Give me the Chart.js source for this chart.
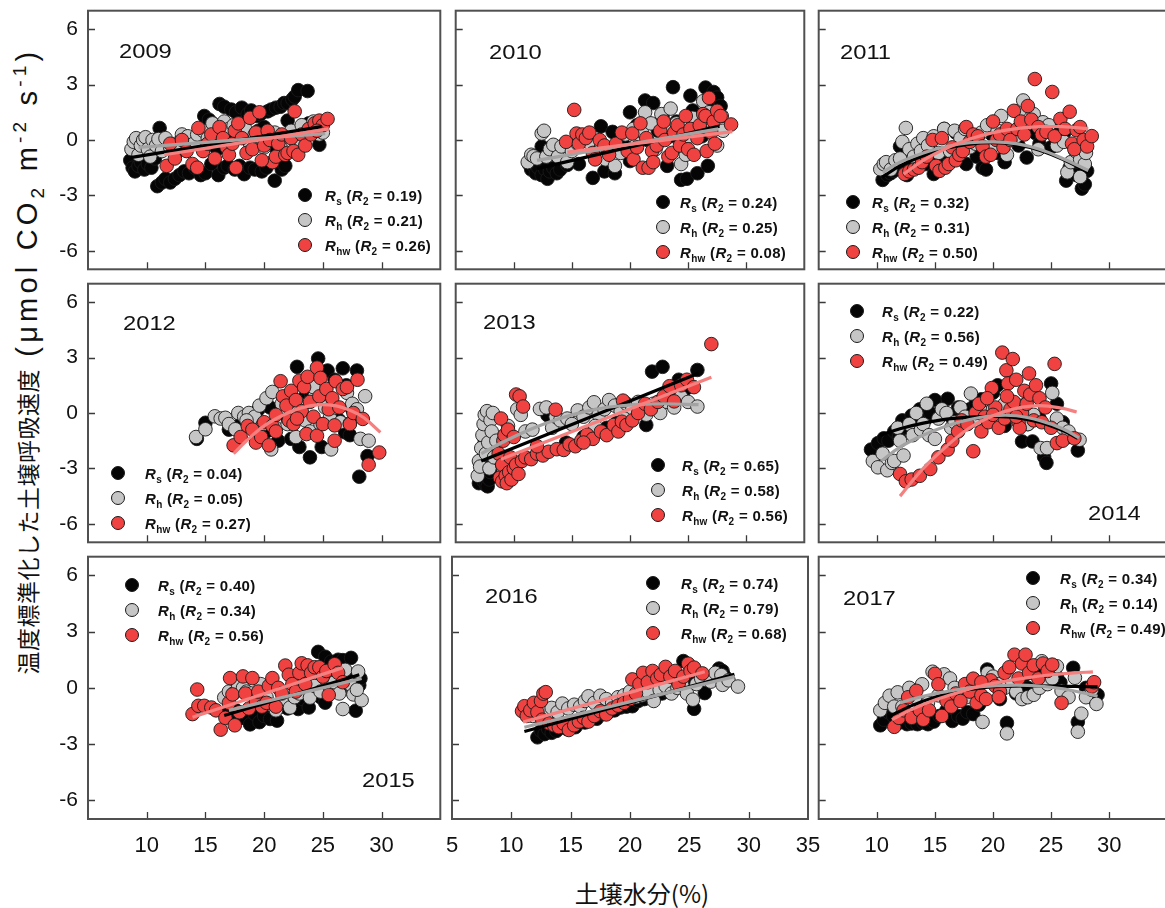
<!DOCTYPE html>
<html><head><meta charset="utf-8">
<script src="https://cdn.jsdelivr.net/npm/chart.js@4.4.1/dist/chart.umd.min.js"></script>
<style>
html,body{margin:0;padding:0;background:#fff;}
body{width:1165px;height:908px;overflow:hidden;position:relative;font-family:"Liberation Sans",Arial,sans-serif;color:#111;}
canvas{position:absolute;}
.yr{position:absolute;font-size:21px;line-height:21px;transform:scaleX(1.13);transform-origin:0 0;white-space:nowrap;}
.lg{position:absolute;display:flex;align-items:center;height:20px;white-space:nowrap;font-weight:bold;font-size:15px;letter-spacing:0.3px;}
.lg .mk{display:inline-block;width:14px;height:14px;border-radius:50%;border:1px solid #1a1a1a;box-sizing:border-box;flex:none;}
.lg sub{font-size:10px;vertical-align:-4px;line-height:0;}
#ytitle{position:absolute;left:27px;top:361px;transform:translate(-50%,-50%) rotate(-90deg);white-space:nowrap;}
#ytitle .cj{font-family:"Noto Sans CJK JP",sans-serif;font-size:23px;letter-spacing:0.5px;}
#ytitle .lt{font-family:"Liberation Sans",Arial,sans-serif;font-size:29px;letter-spacing:4.2px;}
#ytitle sub,#ytitle sup{font-size:19px;line-height:0;}
#xtitle{position:absolute;left:642px;top:892px;transform:translate(-50%,-50%);white-space:nowrap;font-family:"Noto Sans CJK JP",sans-serif;font-size:24px;}
</style></head><body>
<div id="ytitle"><span class="cj">温度標準化した土壌呼吸速度</span><span class="lt"> (μmol CO<sub>2</sub> m<sup>-2</sup> s<sup>-1</sup>)</span></div>
<div id="xtitle">土壌水分(%)</div>
<script>
// ---------------- data ----------------
const years = [2009, 2010, 2011, 2012, 2013, 2014, 2015, 2016, 2017];
const r2Rs  = [0.19, 0.24, 0.32, 0.04, 0.65, 0.22, 0.40, 0.74, 0.34];
const r2Rh  = [0.21, 0.25, 0.31, 0.05, 0.58, 0.56, 0.34, 0.79, 0.14];
const r2Rhw = [0.26, 0.08, 0.50, 0.27, 0.56, 0.49, 0.56, 0.68, 0.49];
const yTickValues = [-6, -3, 0, 3, 6];
const xTickValues = [10, 15, 20, 25, 30];
const xTickValuesMid = [5, 10, 15, 20, 25, 30, 35];

const rs2009 = [[8.6,-1.1],[8.8,-1.5],[9.0,-1.7],[9.3,-1.4],[9.5,-1.2],[9.8,-1.6],[10.1,-1.3],[10.4,-1.5],[10.7,-1.0],[11.1,0.65],[10.9,-2.5],[11.3,-2.3],[11.6,-2.1],[12.0,-2.3],[12.4,-2.1],[12.8,-1.9],[13.2,-1.7],[13.6,-1.8],[14.1,-1.5],[14.6,-1.9],[15.0,-1.8],[15.5,-1.3],[16.1,-1.9],[16.6,-1.5],[16.9,-1.4],[17.5,-1.6],[17.9,-1.4],[18.3,-1.85],[18.8,-1.5],[19.2,-1.6],[19.8,-1.7],[20.2,-1.5],[20.9,-2.2],[21.5,-1.6],[21.8,-1.4],[14.9,1.3],[15.3,1.1],[15.6,0.9],[16.2,1.95],[16.6,1.8],[17.2,1.65],[17.6,1.5],[18.1,1.75],[18.6,1.4],[18.9,1.6],[19.4,1.3],[19.7,1.4],[20.3,1.55],[20.6,1.65],[21.0,1.75],[21.4,1.8],[21.7,2.0],[22.0,2.0],[22.4,2.2],[22.6,2.35],[22.9,2.7],[23.7,2.65],[17.2,0.35],[19.5,0.5],[20.9,-0.35],[15.0,-0.35],[22.0,1.05],[23.8,0.9],[24.7,-0.26],[23.2,0.2],[12.5,-0.7],[13.5,0.1],[16.0,-0.5],[18.0,0.2],[20.0,0.7]];
const rh2009 = [[8.7,-0.5],[8.9,-0.1],[9.1,0.1],[9.3,-0.8],[9.5,-0.3],[9.7,0.0],[9.9,0.15],[10.1,-0.5],[10.3,-0.9],[10.5,0.0],[10.8,-0.3],[11.0,0.05],[11.3,-0.6],[11.6,0.1],[12.0,-0.4],[12.5,-0.2],[13.0,0.3],[13.5,0.2],[14.0,-0.2],[14.3,0.3],[14.8,0.5],[15.2,0.1],[15.6,0.9],[16.0,0.3],[16.6,1.0],[17.0,0.6],[17.4,0.8],[17.8,0.2],[18.4,0.6],[18.8,-0.2],[19.2,0.3],[19.5,0.2],[20.0,-0.4],[20.5,0.0],[20.9,0.4],[21.4,-0.4],[21.8,0.2],[22.3,0.5],[22.8,-0.3],[23.2,0.8],[23.6,0.4],[24.0,0.6],[24.4,0.9],[24.7,0.3],[25.0,0.4],[24.2,1.0]];
const rhw2009 = [[11.7,-1.4],[12.0,-0.2],[12.4,-1.0],[13.0,0.0],[13.4,-0.6],[13.9,-1.3],[14.3,-1.5],[14.4,0.65],[14.8,-0.6],[15.2,-0.2],[15.5,0.3],[15.8,-1.0],[16.2,0.7],[16.5,0.1],[16.8,-0.4],[17.0,-0.8],[17.3,-0.2],[17.5,0.5],[17.8,0.9],[18.1,0.1],[18.5,-0.7],[18.8,1.2],[19.0,-0.5],[19.3,0.4],[19.6,1.5],[20.0,-0.3],[20.3,0.5],[20.5,0.0],[20.7,-1.2],[21.0,-0.9],[21.2,-0.2],[21.5,0.3],[21.8,-0.8],[22.0,-0.7],[22.3,0.1],[22.5,-0.6],[22.6,1.55],[22.9,-0.8],[23.2,0.3],[23.5,-0.3],[23.8,0.6],[24.0,0.3],[24.3,0.9],[24.7,1.05],[25.0,0.8],[25.4,1.14],[24.5,0.5],[19.8,-1.1],[17.6,-1.5]];
const fitRs2009 = [[8.6,-0.95],[24.9,0.72]];
const fitRh2009 = [[9.3,-0.4],[25.2,0.35]];
const fitRhw2009 = [[11.5,-0.8],[25.5,0.6]];

const rs2010 = [[11.3,-1.3],[11.5,-1.6],[11.7,-1.4],[11.9,-1.8],[12.1,-1.5],[12.4,-0.35],[12.4,-1.9],[12.7,-1.6],[12.9,-2.1],[13.1,-1.7],[13.4,-1.5],[13.7,-1.8],[14.0,-1.6],[14.6,-1.35],[15.6,-1.3],[16.8,-2.05],[17.5,0.74],[17.8,-1.7],[18.5,0.44],[18.7,-1.8],[19.5,-0.3],[20.0,1.5],[20.0,-1.14],[20.6,0.8],[21.3,2.14],[21.5,0.0],[22.0,2.0],[22.4,0.5],[22.8,1.3],[23.2,-1.4],[23.7,2.86],[24.0,1.0],[24.4,-2.16],[24.9,-2.1],[25.2,2.4],[25.4,1.6],[25.8,-1.8],[26.0,0.6],[26.5,2.84],[26.7,-1.4],[27.0,1.8],[27.2,2.6],[27.5,2.3],[27.8,1.84],[26.2,0.2],[23.5,0.2]];
const rh2010 = [[11.2,-1.2],[11.5,-0.8],[11.7,-0.88],[12.0,-1.0],[12.4,0.35],[12.6,0.5],[12.8,-0.9],[13.1,-0.5],[13.4,-0.26],[13.8,-0.9],[14.1,-0.35],[14.6,-1.2],[15.0,-0.6],[15.5,-0.2],[16.0,0.1],[16.6,-0.2],[17.0,-0.7],[17.5,-0.4],[17.9,-1.05],[18.3,-0.5],[18.7,-1.4],[19.2,-0.7],[19.6,0.3],[20.3,0.6],[20.6,-0.2],[21.0,0.5],[21.3,1.5],[21.8,0.9],[22.2,-0.5],[22.7,1.4],[23.2,0.6],[23.5,1.7],[24.0,0.9],[24.4,-1.3],[24.8,-0.8],[25.0,0.2],[25.4,1.2],[25.7,0.6],[26.3,2.1],[26.8,1.5],[27.1,0.9],[27.5,-0.3],[27.9,1.3],[28.0,0.5]];
const rhw2010 = [[14.5,-0.1],[15.2,1.63],[15.4,0.35],[15.6,-0.2],[15.9,0.3],[16.2,0.1],[16.5,0.4],[16.8,-0.7],[17.0,-1.05],[17.4,0.0],[17.8,-0.3],[18.2,-0.8],[18.8,-0.2],[19.3,0.4],[19.8,-0.6],[20.2,0.35],[20.3,-1.05],[20.6,-0.4],[20.9,0.9],[21.1,-1.5],[21.4,0.1],[21.6,-1.5],[21.9,-0.6],[22.0,-1.2],[22.3,-0.3],[22.6,0.5],[22.9,1.0],[23.0,0.0],[23.3,-0.9],[23.6,-0.7],[23.8,0.4],[24.1,0.8],[24.3,-0.3],[24.6,0.3],[24.8,1.3],[25.0,-0.5],[25.2,0.6],[25.5,-0.8],[25.8,0.1],[26.0,0.8],[26.3,1.4],[26.5,1.3],[26.6,-0.6],[26.8,2.28],[27.0,0.4],[27.2,1.0],[27.5,1.58],[27.8,1.3],[27.3,-0.2],[28.7,0.84]];
const fitRs2010 = [[12.0,-1.55],[27.7,0.75]];
const fitRh2010 = [[12.0,-1.1],[27.6,0.6]];
const fitRhw2010 = [[14.6,-0.65],[28.8,0.45]];

const rs2011 = [[10.5,-2.16],[10.9,-1.9],[11.2,-1.8],[11.45,-1.67],[11.8,-1.5],[12.0,-0.35],[12.3,-1.4],[12.6,-1.9],[13.0,-1.2],[13.4,-1.5],[13.8,-1.0],[14.2,-1.3],[14.5,-0.6],[14.9,-1.84],[15.3,-0.9],[15.8,0.6],[16.2,-1.1],[16.8,0.4],[17.2,-0.5],[17.7,-1.3],[18.2,-0.2],[18.6,-0.9],[19.1,-1.5],[19.4,-1.6],[19.9,0.3],[20.4,-0.7],[21.0,-1.2],[21.6,0.2],[22.2,-0.3],[22.9,-0.95],[23.3,0.6],[23.7,0.35],[24.0,-0.2],[24.4,0.6],[25.0,-0.4],[25.6,0.5],[26.1,0.35],[26.3,-2.2],[26.6,-1.5],[27.2,-1.9],[27.65,-2.63],[27.9,-2.4],[28.1,-1.67],[27.7,-0.6]];
const rh2011 = [[10.3,-1.58],[10.6,-1.3],[10.8,-1.2],[11.2,-1.6],[11.6,-1.1],[12.0,-1.0],[12.2,-0.1],[12.5,0.65],[12.8,-0.5],[13.2,-0.9],[13.5,-0.2],[13.8,-0.6],[14.0,0.1],[14.4,-0.3],[14.9,0.2],[15.3,-0.7],[15.8,0.6],[16.3,-0.6],[16.7,0.5],[17.2,0.1],[17.6,0.6],[18.0,-0.4],[18.5,-0.2],[19.0,0.4],[19.5,0.8],[20.0,-0.5],[20.4,0.5],[20.7,1.3],[21.2,-0.8],[21.6,0.4],[22.0,0.2],[22.3,1.6],[22.6,2.14],[23.0,0.9],[23.5,1.4],[23.9,-0.5],[24.3,0.96],[24.8,0.8],[25.5,-0.3],[26.1,-0.1],[26.4,-1.75],[26.7,-1.2],[27.1,-0.6],[27.5,-1.05],[27.5,-2.0],[27.9,-1.3],[28.0,-0.7]];
const rhw2011 = [[12.4,-1.84],[12.8,-1.7],[13.2,-1.6],[13.6,-1.5],[13.9,-1.2],[14.3,-0.9],[14.8,0.0],[15.1,-1.4],[15.4,-1.67],[15.6,0.1],[15.9,-1.5],[16.2,-1.3],[16.5,-0.4],[16.8,-1.1],[17.1,-0.8],[17.4,-0.6],[17.7,0.7],[18.0,-0.1],[18.3,0.3],[18.7,0.2],[19.1,-0.35],[19.4,-0.9],[19.8,-0.8],[20.0,1.0],[20.3,0.0],[20.6,0.3],[20.9,-0.4],[21.2,0.6],[21.5,0.0],[21.8,1.58],[22.1,0.6],[22.4,1.0],[22.7,0.3],[23.0,1.84],[23.3,1.1],[23.6,3.3],[23.9,0.7],[24.2,0.3],[24.6,0.44],[25.1,2.6],[25.3,0.2],[25.8,1.14],[26.2,0.6],[26.6,1.53],[26.8,-0.2],[27.0,-0.5],[27.2,0.53],[27.5,0.7],[27.8,0.0],[28.1,-0.35],[28.5,0.21]];
const fitRs2011 = [[10.5,-2.0],[12,-1.4],[14,-0.85],[16,-0.45],[18,-0.22],[20,-0.15],[22,-0.25],[24,-0.55],[26,-1.05],[28.2,-1.75]];
const fitRh2011 = [[10.5,-1.75],[12,-1.2],[14,-0.7],[16,-0.35],[18,-0.15],[20,-0.1],[22,-0.2],[24,-0.5],[26,-1.0],[28.2,-1.65]];
const fitRhw2011 = [[12.3,-1.85],[14,-1.1],[16,-0.45],[18,0.05],[20,0.4],[22,0.62],[24,0.72],[26,0.72],[28.2,0.62]];

const rs2012 = [[14.27,-1.4],[15.0,-0.53],[17.0,-0.9],[18.0,-0.6],[19.5,0.18],[20.2,-1.0],[20.5,0.3],[21.2,-1.5],[21.8,0.6],[22.0,-0.3],[22.3,-1.4],[22.8,2.5],[23.0,-1.84],[23.5,0.9],[23.9,-2.4],[24.0,1.0],[24.6,2.95],[24.9,-1.84],[25.4,2.3],[25.8,0.4],[26.0,1.8],[26.4,-0.4],[26.7,2.42],[26.9,-1.05],[27.0,1.5],[27.5,0.2],[27.9,2.3],[28.1,-3.45],[28.8,-2.33],[27.3,-1.2]];
const rh2012 = [[14.2,-1.3],[15.0,-0.88],[15.8,-0.18],[16.3,-0.3],[16.7,-0.26],[17.0,-0.6],[17.55,-0.88],[17.8,0.0],[18.3,-0.2],[18.7,0.0],[19.2,-0.2],[19.6,0.4],[19.9,-0.6],[20.2,0.8],[20.6,-1.97],[20.7,1.14],[21.0,-0.8],[21.5,0.5],[22.0,-0.6],[22.4,0.2],[23.0,0.5],[23.5,-0.4],[23.9,-1.0],[24.3,0.9],[24.8,-0.6],[25.2,0.3],[25.6,-0.26],[25.7,-1.97],[26.0,0.3],[26.5,-0.5],[27.05,1.09],[27.3,-0.56],[27.5,0.5],[27.9,0.2],[28.2,-1.4],[28.6,0.91],[28.9,-1.5],[18.5,-0.4],[22.7,-1.3],[24.2,1.4]];
const rhw2012 = [[17.4,-1.75],[18.0,-1.3],[18.6,-0.7],[19.0,-0.9],[19.3,-1.6],[19.75,-1.3],[20.0,-0.5],[20.4,-1.75],[20.7,-0.7],[21.0,-0.1],[21.4,1.72],[21.6,0.9],[21.9,0.4],[22.1,-0.4],[22.3,1.2],[22.5,-0.6],[22.7,0.7],[23.0,1.75],[23.2,0.1],[23.4,1.4],[23.6,-1.14],[23.7,1.96],[23.9,0.6],[24.2,-0.2],[24.5,2.46],[24.5,-1.23],[24.7,0.9],[24.8,1.9],[25.0,-0.6],[25.3,1.3],[25.5,0.2],[25.8,0.8],[26.0,-0.67],[26.1,1.72],[26.0,-1.5],[26.4,0.3],[26.7,1.3],[27.05,1.4],[27.3,-0.6],[27.6,0.0],[27.95,1.8],[28.4,-0.32],[28.9,-2.8],[29.8,-2.14],[21.0,-1.0],[22.8,-0.3]];
const fitRs2012 = [];
const fitRh2012 = [];
const fitRhw2012 = [[17.4,-2.2],[18.5,-1.5],[20.0,-0.7],[21.5,-0.15],[23.0,0.25],[24.5,0.44],[26.0,0.4],[27.5,0.1],[28.5,-0.26],[29.9,-1.05]];

const rs2013 = [[7.0,-3.8],[7.2,-3.5],[7.4,-3.7],[7.6,-3.9],[7.75,-3.97],[7.9,-3.6],[7.3,-3.0],[7.46,-2.5],[7.6,-2.0],[7.5,-1.5],[7.7,-1.0],[7.6,-0.8],[8.0,-3.2],[8.2,-2.7],[12.9,-0.12],[14.5,-1.6],[16.0,-1.3],[18.0,-0.8],[19.0,-0.4],[20.5,0.2],[21.4,-0.65],[21.9,2.24],[22.8,2.5],[23.5,1.2],[24.2,1.8],[24.8,1.3],[25.8,2.33],[22.5,0.6]];
const rh2013 = [[6.9,-3.4],[7.0,-2.6],[7.1,-2.9],[7.2,-1.9],[7.3,-1.2],[7.4,-0.6],[7.5,-0.1],[7.6,-2.2],[7.7,0.1],[7.8,-1.6],[7.9,-3.0],[8.0,-0.4],[8.1,-1.0],[8.2,0.0],[8.3,-2.4],[8.5,-1.5],[9.5,-0.7],[10.3,0.2],[10.6,-0.1],[11.0,-1.0],[11.6,-0.9],[12.25,0.22],[12.8,0.3],[13.3,-0.8],[13.6,-0.2],[14.0,-0.4],[14.6,-0.3],[15.0,-0.6],[15.5,0.14],[16.0,-0.2],[16.5,0.3],[16.9,0.58],[17.3,-0.1],[17.8,0.2],[18.2,0.7],[18.7,0.4],[19.2,0.1],[19.7,0.5],[20.2,0.2],[20.7,0.6],[21.4,-0.09],[22.0,0.5],[22.6,0.0],[23.2,0.6],[23.8,0.3],[24.4,0.88],[25.0,0.6],[25.8,0.35],[17.0,-0.7],[19.5,-0.3]];
const rhw2013 = [[8.7,-2.2],[8.8,-3.5],[8.9,-0.3],[9.0,-3.7],[9.0,-2.8],[9.1,-1.5],[9.2,-1.2],[9.3,-3.4],[9.4,-3.8],[9.5,-0.9],[9.6,-3.2],[9.7,-2.4],[9.8,-3.6],[10.0,-3.0],[10.0,-1.3],[10.2,-2.8],[10.2,1.0],[10.5,0.9],[10.8,0.35],[10.4,-3.3],[10.7,-2.6],[11.0,-2.4],[11.5,-2.5],[12.0,-2.2],[12.5,-2.3],[13.0,-2.1],[13.6,0.18],[13.7,-1.96],[14.3,-2.0],[14.8,-1.7],[15.3,-1.8],[15.8,-1.5],[16.3,-1.17],[16.8,-1.4],[17.5,-1.0],[18.0,-1.2],[18.6,-0.65],[19.0,-1.0],[19.3,-0.47],[19.4,0.67],[19.7,-0.65],[20.2,-0.4],[20.7,0.0],[21.3,0.5],[21.8,0.2],[22.4,0.6],[22.9,0.9],[23.4,1.45],[23.8,0.63],[24.4,1.5],[24.9,1.8],[25.5,1.4],[27.0,3.73],[16.0,-1.6],[12.0,-1.8]];
const fitRs2013 = [[7.2,-2.6],[25.9,2.15]];
const fitRh2013 = [[7.2,-2.2],[9,-1.6],[11,-1.0],[13,-0.5],[15,-0.1],[17,0.2],[19,0.38],[21,0.47],[23,0.5],[25.9,0.45]];
const fitRhw2013 = [[8.9,-2.5],[27.0,1.93]];

const rs2014 = [[9.5,-1.98],[10.1,-1.63],[10.6,-1.37],[11.0,-1.5],[11.5,-1.0],[11.9,-1.3],[12.2,-0.4],[12.6,-0.8],[13.0,-0.14],[13.4,-0.6],[13.7,0.2],[14.1,-0.4],[14.6,0.0],[15.0,0.7],[15.4,-0.2],[16.1,0.77],[16.5,-0.3],[17.0,0.3],[17.5,-0.5],[18.0,0.2],[18.5,0.5],[19.0,0.74],[19.5,-0.2],[20.0,1.1],[20.4,1.5],[21.0,-0.7],[21.5,0.2],[22.0,0.0],[22.5,-1.54],[23.0,-0.6],[23.4,-1.54],[24.0,-0.3],[24.4,-2.38],[24.6,-2.7],[25.0,1.6],[25.5,0.5],[26.0,-0.5],[26.5,-1.3],[27.3,-2.03]];
const rh2014 = [[9.66,-2.6],[10.1,-2.94],[10.5,-2.2],[10.9,-3.1],[11.3,-2.7],[11.5,-2.6],[11.8,-0.8],[12.0,-1.5],[12.3,-2.3],[12.8,-0.6],[13.1,-1.2],[13.4,0.0],[13.8,-0.9],[14.0,-0.6],[14.3,0.5],[14.5,-1.2],[15.0,-1.4],[15.3,-0.3],[15.6,0.2],[16.0,0.0],[16.4,-0.8],[16.7,-0.5],[17.2,0.3],[17.6,-0.2],[18.1,1.05],[18.5,-0.4],[19.05,0.39],[19.5,0.0],[20.0,0.2],[20.5,-0.4],[21.0,0.5],[21.5,-0.1],[22.0,-0.3],[22.5,0.4],[23.0,-0.6],[23.5,-0.1],[24.1,-1.9],[24.65,-1.9],[25.1,1.09],[25.5,-0.3],[26.0,-0.8],[26.5,-1.0],[27.45,-1.45]];
const rhw2014 = [[12.0,-3.3],[12.5,-3.7],[13.0,-3.6],[13.7,-3.4],[14.6,-3.03],[15.3,-2.4],[16.1,-1.98],[16.5,-1.5],[17.0,-1.0],[17.3,-0.4],[17.8,-0.6],[18.3,-2.07],[18.5,0.0],[18.8,0.5],[19.0,-1.0],[19.3,-0.2],[19.6,-0.5],[19.9,1.35],[20.2,0.3],[20.5,-0.8],[20.8,3.27],[21.0,-0.3],[21.15,2.31],[21.3,1.6],[21.5,0.2],[21.7,2.92],[21.8,0.6],[22.0,1.8],[22.2,-0.5],[22.3,-0.8],[22.5,0.0],[22.7,1.2],[22.9,0.5],[23.1,2.14],[23.2,1.0],[23.5,-0.4],[23.7,1.5],[24.0,0.8],[24.2,-0.5],[24.5,0.3],[25.0,-0.8],[25.3,2.66],[25.5,-1.63],[26.0,-1.5],[27.0,-1.37],[20.0,-0.1],[21.2,0.9],[22.0,-0.2],[19.5,0.8]];
const fitRs2014 = [[10.3,-1.2],[12,-0.85],[14,-0.55],[16,-0.33],[18,-0.22],[20,-0.18],[22,-0.25],[24,-0.5],[26,-0.95],[27.3,-1.37]];
const fitRh2014 = [[10.4,-2.6],[12,-1.85],[14,-1.2],[16,-0.7],[18,-0.35],[20,-0.15],[22,-0.15],[24,-0.4],[26,-0.85],[27.4,-1.35]];
const fitRhw2014 = [[12,-4.5],[14,-3.0],[16,-1.8],[18,-0.8],[20,-0.15],[22,0.25],[24,0.4],[26,0.25],[27.2,0.05]];

const rs2015 = [[16.7,-1.3],[17.2,-1.5],[17.6,-1.2],[18.2,-1.6],[18.8,-1.95],[19.2,-1.4],[19.6,-1.83],[20.0,-1.5],[20.5,-1.66],[21.1,-1.75],[21.5,-1.0],[22.0,-1.1],[22.5,-0.8],[22.9,-1.13],[23.3,-0.6],[23.8,-1.05],[24.0,-0.3],[24.3,0.1],[24.6,1.92],[24.8,-0.5],[25.2,1.66],[25.2,-0.79],[25.7,1.4],[26.0,0.3],[26.3,1.5],[26.5,0.0],[26.7,1.48],[27.0,0.6],[27.4,1.6],[27.8,-1.22],[28.1,0.14],[28.2,0.5],[27.6,-0.3]];
const rh2015 = [[16.6,-0.52],[17.0,-0.2],[17.4,-0.3],[17.8,0.1],[18.2,0.0],[18.5,-0.2],[18.9,-0.3],[19.3,-0.8],[19.7,0.2],[20.2,-0.5],[20.6,-0.9],[21.0,-1.2],[21.5,-0.7],[22.2,-1.05],[22.6,-0.5],[23.0,-0.3],[23.5,0.4],[23.9,-0.52],[24.3,0.1],[24.8,-0.2],[25.2,0.5],[25.6,0.0],[26.0,0.3],[26.4,-0.3],[26.7,-1.13],[26.9,0.96],[27.3,0.2],[27.6,-0.35],[28.0,0.87],[28.3,-0.66],[27.9,-0.1]];
const rhw2015 = [[13.9,-1.4],[14.3,-0.09],[14.4,-0.96],[14.9,-0.96],[15.5,-1.05],[15.9,-1.2],[16.3,-2.23],[16.7,-1.6],[17.0,-0.8],[17.1,0.52],[17.3,-0.35],[17.5,-2.0],[17.9,-1.3],[18.2,0.61],[18.4,-0.3],[18.7,-1.1],[19.0,0.52],[19.3,-0.7],[19.5,-0.2],[19.8,-1.0],[20.2,-0.8],[20.4,0.1],[20.7,0.52],[21.0,-1.0],[21.2,0.0],[21.5,-0.3],[21.8,1.19],[22.1,0.7],[22.4,0.2],[22.7,-0.2],[23.0,0.8],[23.2,1.31],[23.5,0.2],[23.7,1.2],[24.0,0.8],[24.3,1.1],[24.7,1.1],[25.0,0.6],[25.3,0.9],[25.5,-0.38],[26.0,1.26],[26.3,0.8],[26.7,0.3]];
const fitRs2015 = [[16.6,-1.48],[28.1,0.7]];
const fitRh2015 = [[17.0,-1.2],[28.3,0.5]];
const fitRhw2015 = [[13.9,-1.57],[26.7,1.08]];

const rs2016 = [[12.2,-2.64],[12.5,-2.3],[12.8,-2.47],[13.1,-2.2],[13.4,-2.4],[13.8,-2.3],[14.2,-2.1],[14.7,-2.2],[15.1,-1.9],[15.4,-2.1],[15.8,-1.8],[16.2,-1.85],[16.7,-1.6],[17.2,-1.65],[17.7,-1.4],[18.2,-1.3],[18.7,-1.2],[19.2,-1.05],[19.7,-1.0],[20.2,-0.98],[20.7,-0.7],[21.2,-0.6],[21.7,-0.5],[22.2,-0.4],[22.7,-0.3],[23.2,-0.2],[23.7,-0.1],[24.1,0.1],[24.5,1.43],[24.8,0.2],[25.4,-1.12],[25.6,0.3],[26.3,-0.28],[27.5,1.03],[27.8,0.9],[28.0,0.6]];
const rh2016 = [[11.3,-1.3],[11.8,-1.5],[12.5,-1.4],[13.0,-1.2],[13.4,-1.07],[13.9,-1.3],[14.3,-0.84],[14.8,-1.1],[15.3,-0.9],[15.8,-1.0],[16.2,-0.7],[16.5,-0.45],[17.0,-0.8],[17.5,-0.42],[18.0,-0.6],[18.5,-0.8],[19.0,-0.5],[19.5,-0.4],[20.0,-0.2],[20.5,-0.5],[21.0,-0.4],[21.5,-0.2],[22.0,-0.7],[22.5,-0.1],[23.0,0.1],[23.5,-0.3],[24.0,0.0],[24.4,0.16],[24.8,-0.3],[25.3,-0.63],[25.6,0.2],[26.0,0.5],[26.8,0.33],[27.2,0.8],[27.7,0.68],[27.8,0.16],[28.3,0.4],[29.1,0.07]];
const rhw2016 = [[10.9,-1.24],[11.1,-0.98],[11.3,-1.5],[11.6,-1.2],[11.9,-0.8],[12.2,-1.3],[12.5,-0.7],[12.7,-0.31],[12.9,-0.23],[12.6,-1.7],[13.2,-1.9],[13.6,-2.0],[14.0,-2.1],[14.4,-1.9],[14.85,-2.25],[15.3,-2.0],[15.7,-1.8],[16.1,-1.6],[16.5,-1.8],[17.0,-1.5],[17.5,-1.25],[18.0,-1.42],[18.5,-1.1],[19.0,-0.95],[19.5,-0.8],[20.0,-0.6],[20.2,0.45],[20.5,-0.3],[20.8,0.2],[21.1,0.8],[21.5,0.3],[21.9,0.9],[22.3,0.5],[22.6,0.7],[23.0,1.12],[23.4,0.6],[23.8,0.9],[24.1,0.2],[24.5,0.6],[24.9,1.29],[25.1,0.9],[25.4,1.08],[26.1,0.77]];
const fitRs2016 = [[11.1,-2.33],[28.8,0.72]];
const fitRh2016 = [[11.1,-2.1],[28.8,0.6]];
const fitRhw2016 = [[11.0,-1.82],[26.3,0.86]];

const rs2017 = [[10.3,-2.0],[10.6,-1.7],[11.0,-1.3],[11.4,-1.5],[11.8,-1.9],[12.2,-1.8],[12.6,-1.94],[13.0,-1.9],[13.5,-1.94],[14.0,-1.85],[14.4,-1.94],[14.9,-1.8],[15.4,-1.5],[16.0,-1.2],[16.5,-1.77],[17.0,-1.5],[17.4,-1.64],[17.8,-1.3],[18.3,-1.4],[18.8,-0.9],[19.5,0.98],[20.0,0.5],[20.6,-0.6],[21.2,-1.87],[22.0,-0.3],[22.5,0.4],[23.0,0.0],[24.0,0.8],[24.5,0.5],[25.5,0.6],[25.8,0.28],[26.9,1.07],[27.3,-1.82],[28.0,0.0],[28.5,-0.5],[29.0,-0.37]];
const rh2017 = [[10.3,-1.2],[10.7,-0.8],[11.1,-0.42],[11.5,-1.0],[11.8,-0.24],[12.2,-1.0],[12.8,0.0],[13.3,-0.5],[13.9,0.19],[14.4,-0.8],[14.8,0.86],[15.3,-0.4],[15.8,0.72],[16.3,0.5],[16.7,0.0],[17.2,-0.6],[17.7,-0.5],[18.2,0.3],[18.6,-0.2],[19.1,-1.82],[19.55,0.8],[20.0,0.6],[20.5,0.2],[21.0,0.0],[21.2,-2.43],[21.6,0.4],[22.0,-0.2],[22.5,-0.6],[22.98,-0.5],[23.5,-0.37],[24.0,0.0],[24.2,1.42],[24.7,0.2],[25.1,0.5],[25.5,1.15],[25.9,-0.16],[26.5,-0.5],[27.05,0.54],[27.3,-2.34],[27.6,-1.38],[28.0,-0.5],[28.5,-0.1],[28.9,-0.86]];
const rhw2017 = [[11.5,-2.08],[11.9,-1.6],[12.3,-1.2],[12.7,-0.5],[13.0,-1.6],[13.4,-0.16],[13.7,-1.2],[14.0,-1.7],[14.5,-1.2],[15.0,0.75],[15.3,0.19],[15.6,-1.5],[16.0,-0.7],[16.4,-1.0],[16.8,-0.3],[17.2,-0.7],[17.6,0.2],[18.0,-0.2],[18.3,0.49],[18.6,-0.8],[19.0,-0.4],[19.4,-0.6],[19.8,0.4],[20.2,0.1],[20.6,-0.2],[21.0,0.8],[21.4,1.1],[21.85,1.77],[22.2,0.5],[22.5,1.3],[22.8,1.77],[23.1,0.8],[23.5,1.2],[23.9,0.5],[24.3,1.3],[24.7,0.9],[25.1,1.24],[25.9,-0.8],[28.5,0.07],[28.7,0.3],[20.5,-0.5],[19.0,0.3]];
const fitRs2017 = [[11,-1.55],[13,-0.95],[15,-0.5],[17,-0.2],[19,0.0],[21,0.08],[23,0.1],[25,0.1],[27,0.08],[29,0.05]];
const fitRh2017 = [[12,-0.8],[14,-0.45],[16,-0.2],[18,0.0],[20,0.1],[22,0.15],[24,0.1],[26,-0.05],[28,-0.3],[29,-0.45]];
const fitRhw2017 = [[11.3,-1.7],[13,-1.15],[15,-0.65],[17,-0.25],[19,0.1],[21,0.35],[23,0.55],[25,0.7],[27,0.8],[28.6,0.85]];

const rsAll  = [rs2009, rs2010, rs2011, rs2012, rs2013, rs2014, rs2015, rs2016, rs2017];
const rhAll  = [rh2009, rh2010, rh2011, rh2012, rh2013, rh2014, rh2015, rh2016, rh2017];
const rhwAll = [rhw2009, rhw2010, rhw2011, rhw2012, rhw2013, rhw2014, rhw2015, rhw2016, rhw2017];
const fitRsAll  = [fitRs2009, fitRs2010, fitRs2011, fitRs2012, fitRs2013, fitRs2014, fitRs2015, fitRs2016, fitRs2017];
const fitRhAll  = [fitRh2009, fitRh2010, fitRh2011, fitRh2012, fitRh2013, fitRh2014, fitRh2015, fitRh2016, fitRh2017];
const fitRhwAll = [fitRhw2009, fitRhw2010, fitRhw2011, fitRhw2012, fitRhw2013, fitRhw2014, fitRhw2015, fitRhw2016, fitRhw2017];

// ---------------- layout (not data) ----------------
const colLeft = [88, 452, 815];
const rowTop = [7, 280, 553];
const PW = 356, PH = 266;
const yearPos = [[31,51],[37,52],[25,52],[35,50],[31,49],[273,240],[274,234],[33,50],[28,52]];
const legendPos = [[217,188,237],[211,195,228],[38,195,57],[30,193,57],[206,185,230],[42,31,67],[44,32,70],[201,30,229],[218,25,245]];
const COL_BLACK = '#050505', COL_GRAY = '#c6c6c6', COL_RED = '#f04240';
const LINE_BLACK = '#000000', LINE_GRAY = '#a3a3a3', LINE_RED = '#f48080';

const pts = a => a.map(([x, y]) => ({x, y}));
const scatterDs = (d, fill, order) => ({data: pts(d), backgroundColor: fill, borderColor: '#1a1a1a', borderWidth: 0.9, pointRadius: 6.8, pointHoverRadius: 6.8, showLine: false, order});
const lineDs = (d, color, order) => ({data: pts(d), borderColor: color, backgroundColor: color, borderWidth: 3.2, pointRadius: 0, pointHoverRadius: 0, showLine: true, tension: 0.4, fill: false, order});

const decoPlugin = {
  id: 'deco',
  afterDraw(chart) {
    const {ctx, chartArea: a, scales: {x, y}} = chart;
    ctx.save();
    ctx.strokeStyle = '#3a3a3a';
    ctx.lineWidth = 1.3;
    ctx.beginPath();
    xTickValues.forEach(v => { const p = Math.round(x.getPixelForValue(v)) + 0.5; ctx.moveTo(p, a.bottom); ctx.lineTo(p, a.bottom - 7); });
    yTickValues.forEach(v => { const p = Math.round(y.getPixelForValue(v)) + 0.5; ctx.moveTo(a.left, p); ctx.lineTo(a.left + 7, p); });
    ctx.stroke();
    ctx.strokeStyle = '#505050';
    ctx.lineWidth = 2;
    ctx.strokeRect(a.left, a.top, a.right - a.left, a.bottom - a.top);
    ctx.restore();
  }
};

const body = document.body;
years.forEach((yr, i) => {
  const col = i % 3, row = Math.floor(i / 3);
  const wide = (col === 1 && row === 2);
  const ML = col === 0 ? 88 : (wide ? 16 : 4), MT = 4, MR = wide ? 18 : 4, MB = row === 2 ? 50 : 4;
  const W = PW + ML + MR, H = PH + MT + MB;
  const cv = document.createElement('canvas');
  cv.width = W; cv.height = H;
  cv.style.left = (colLeft[col] - ML) + 'px';
  cv.style.top = (rowTop[row] - MT) + 'px';
  cv.style.width = W + 'px'; cv.style.height = H + 'px';
  body.appendChild(cv);

  const datasets = [
    scatterDs(rsAll[i], COL_BLACK, 6),
    scatterDs(rhAll[i], COL_GRAY, 5),
    scatterDs(rhwAll[i], COL_RED, 4),
  ];
  if (fitRsAll[i].length) datasets.push(lineDs(fitRsAll[i], LINE_BLACK, 3));
  if (fitRhAll[i].length) datasets.push(lineDs(fitRhAll[i], LINE_GRAY, 2));
  if (fitRhwAll[i].length) datasets.push(lineDs(fitRhwAll[i], LINE_RED, 1));

  const xLabels = col === 1 ? xTickValuesMid : xTickValues;
  new Chart(cv, {
    type: 'scatter',
    data: {datasets},
    options: {
      responsive: false, animation: false, devicePixelRatio: 1,
      layout: {padding: {left: 0, top: MT, right: MR, bottom: 0}},
      plugins: {legend: {display: false}, tooltip: {enabled: false}},
      events: [],
      scales: {
        x: {
          type: 'linear', min: 5, max: 35,
          afterBuildTicks: s => { s.ticks = xLabels.map(v => ({value: v})); },
          afterFit: s => { s.height = MB; s.paddingLeft = 0; s.paddingRight = 0; },
          grid: {display: false, drawTicks: false},
          border: {display: false},
          ticks: {display: row === 2, autoSkip: false, maxRotation: 0, padding: 14, color: '#111',
                  font: {family: "'Liberation Sans', Arial, sans-serif", size: 22}}
        },
        y: {
          type: 'linear', min: -7, max: 7,
          afterBuildTicks: s => { s.ticks = yTickValues.map(v => ({value: v})); },
          afterFit: s => { s.width = ML; s.paddingTop = 0; s.paddingBottom = 0; },
          grid: {display: false, drawTicks: false},
          border: {display: false},
          ticks: {display: col === 0, autoSkip: false, padding: 10, color: '#111',
                  font: {family: "'Liberation Sans', Arial, sans-serif", size: 21}}
        }
      }
    },
    plugins: [decoPlugin]
  });

  // year label
  const yl = document.createElement('div');
  yl.className = 'yr';
  yl.textContent = String(yr);
  yl.style.left = (colLeft[col] + yearPos[i][0]) + 'px';
  yl.style.top = (rowTop[row] + yearPos[i][1] - 17.8) + 'px';
  body.appendChild(yl);

  // legend
  const [mx, my, tx] = legendPos[i];
  const entries = [
    [COL_BLACK, 's', r2Rs[i]],
    [COL_GRAY, 'h', r2Rh[i]],
    [COL_RED, 'hw', r2Rhw[i]],
  ];
  entries.forEach(([c, sub, r2], k) => {
    const row_ = document.createElement('div');
    row_.className = 'lg';
    row_.style.left = (colLeft[col] + mx - 7) + 'px';
    row_.style.top = (rowTop[row] + my + k * 25 - 10) + 'px';
    row_.innerHTML = '<span class="mk" style="background:' + c + '"></span>' +
      '<span style="margin-left:' + (tx - mx - 7) + 'px"><i>R</i><sub>' + sub + '</sub> (<i>R</i><sub>2</sub> = ' + r2.toFixed(2) + ')</span>';
    body.appendChild(row_);
  });
});
</script>
</body></html>
